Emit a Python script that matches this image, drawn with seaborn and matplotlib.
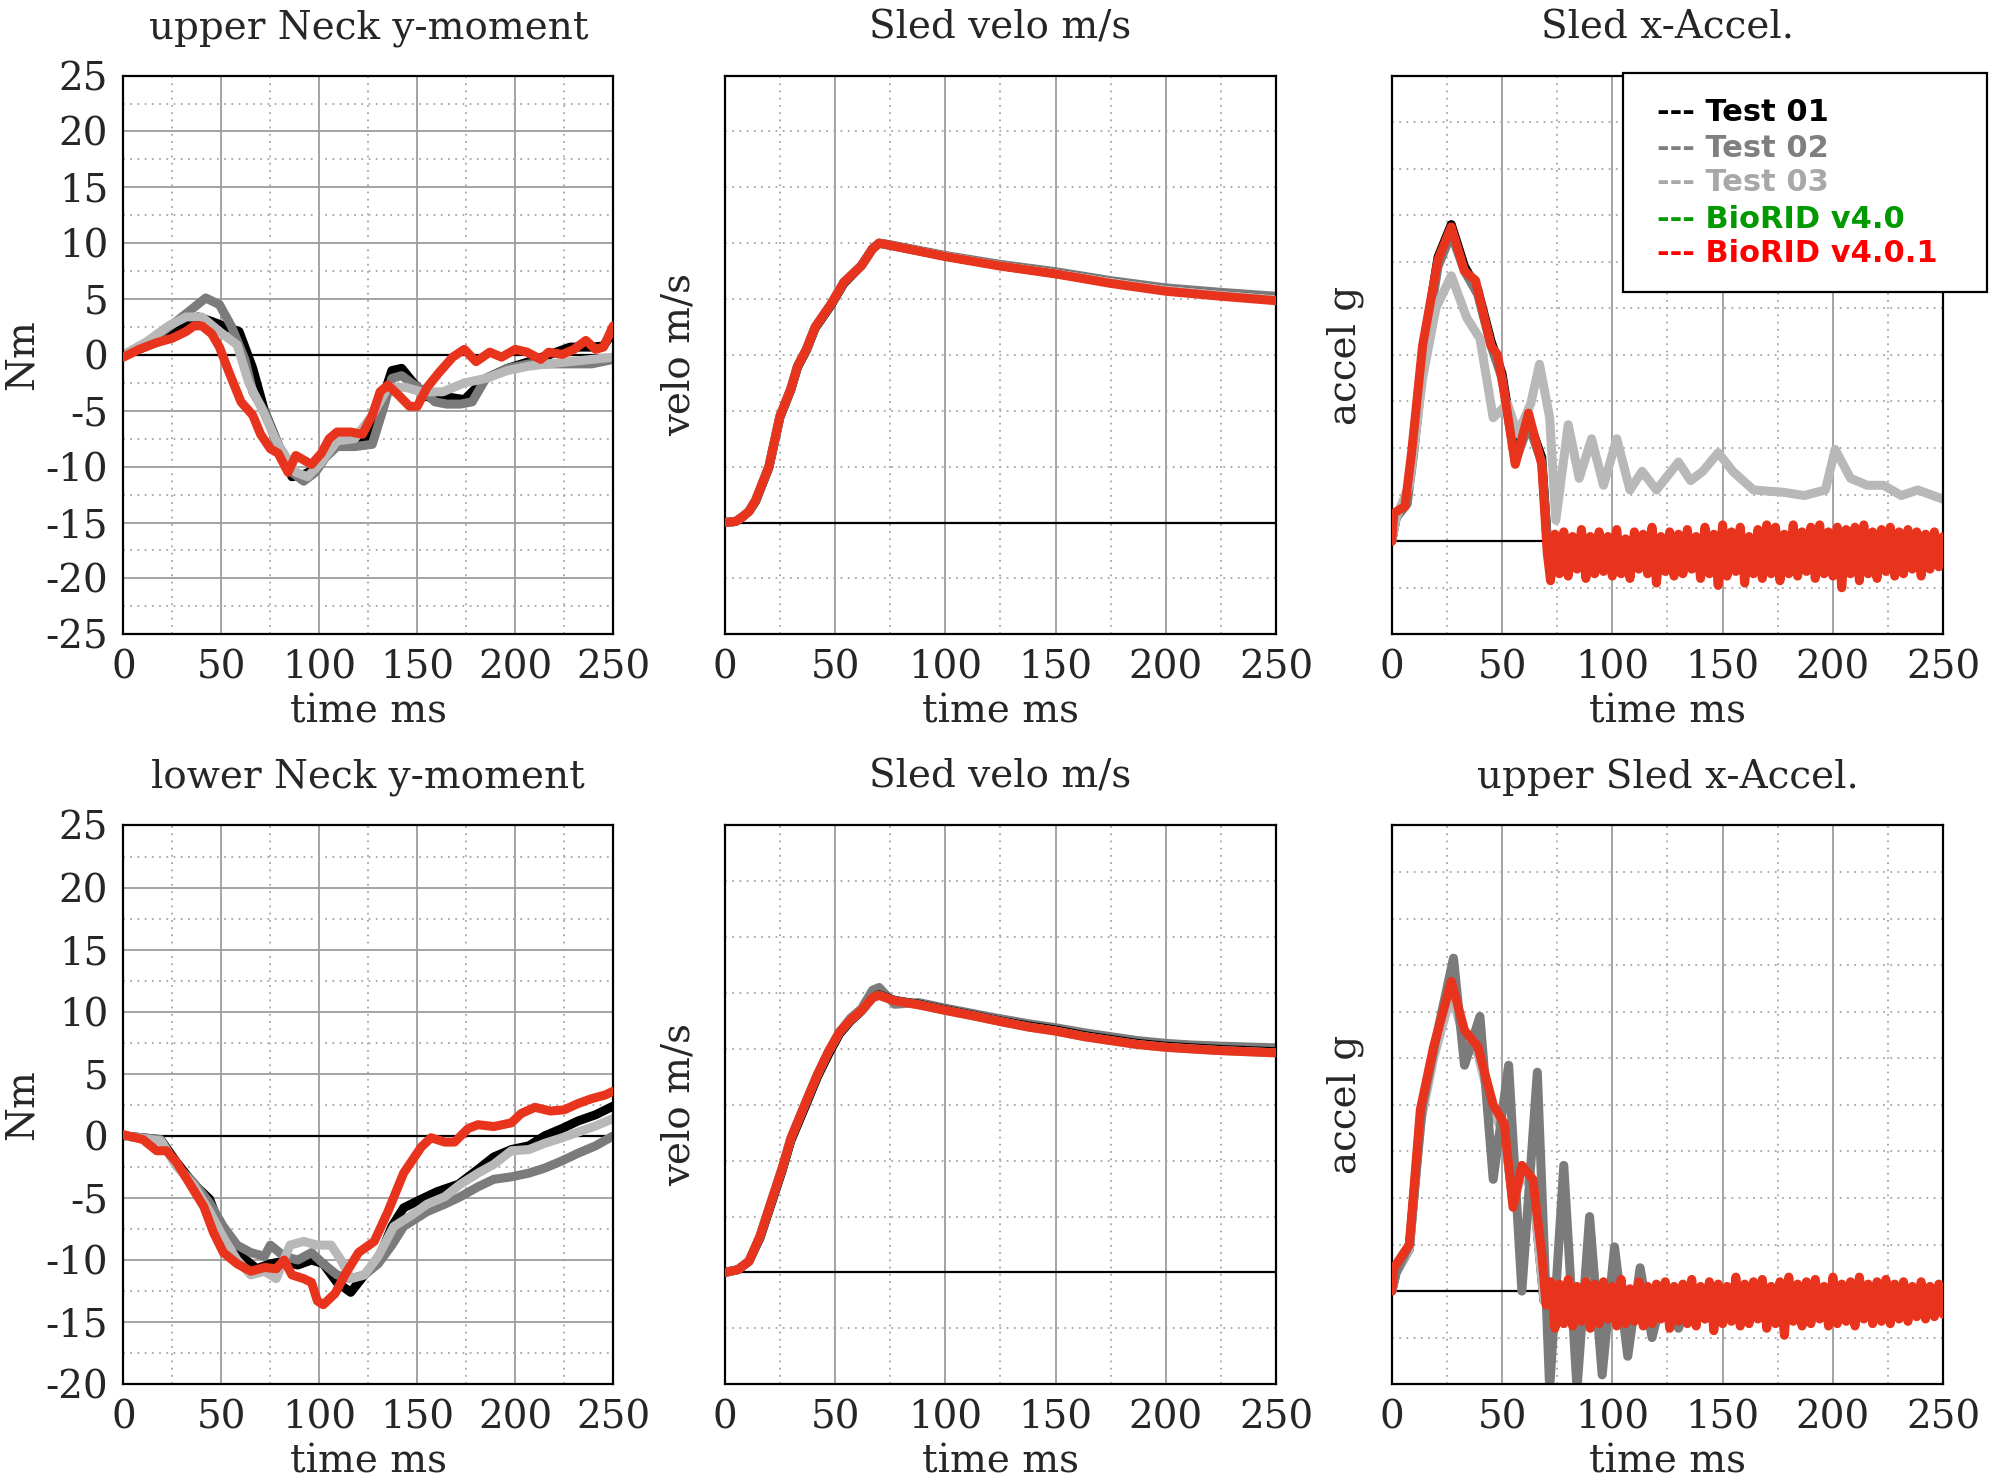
import numpy as np
import matplotlib
matplotlib.use("Agg")
import matplotlib.pyplot as plt
from matplotlib.patches import Rectangle
from matplotlib.ticker import MultipleLocator
import seaborn as sns

sns.set_style("white")
plt.rcParams['font.family'] = ['DejaVu Serif']
plt.rcParams['axes.unicode_minus'] = False

# ---------------- data ----------------
# upper neck y-moment (Nm)
un_t01_t = [0, 8, 16, 25, 32, 38, 45, 51, 59, 66, 72, 79, 86, 92, 99, 107, 116, 125, 131, 137,
            142, 148, 155, 165, 174, 185, 196, 207, 217, 228, 239, 245, 250]
un_t01_y = [0, 0.5, 1.1, 1.8, 2.6, 3.4, 3.0, 2.6, 2.1, -1.2, -5.0, -8.0, -10.9, -10.7, -10.1, -8.2, -8.0, -7.7, -4.6, -1.4,
            -1.2, -2.5, -3.75, -3.75, -4.0, -2.1, -1.2, -0.6, 0.0, 0.7, 0.7, 0.8, 2.1]
un_t02_t = [0, 14, 27, 36, 42, 49, 55, 62, 66, 73, 79, 86, 92, 98, 103, 109, 118, 127, 133, 137,
            142, 147, 152, 159, 165, 172, 178, 185, 196, 207, 217, 228, 239, 250]
un_t02_y = [0, 1.3, 3.0, 4.25, 5.1, 4.5, 2.6, -0.4, -3.3, -5.4, -8.4, -10.5, -11.3, -10.5, -9.2, -8.2, -8.2, -8.0, -4.6, -2.1,
            -1.85, -2.5, -3.1, -4.2, -4.4, -4.4, -4.2, -2.1, -1.2, -0.8, -0.8, -0.8, -0.8, -0.4]
un_t03_t = [0, 12, 23, 32, 40, 49, 58, 64, 70, 79, 88, 94, 101, 109, 118, 127, 135, 144, 152, 163,
            174, 185, 196, 207, 217, 228, 239, 250]
un_t03_y = [0, 1.2, 2.6, 3.4, 3.4, 2.1, 0.9, -2.5, -4.6, -8.0, -10.5, -10.9, -9.6, -7.7, -7.5, -5.4, -2.9, -2.9, -3.3, -3.3,
            -2.5, -2.1, -1.4, -1.0, -0.8, -0.6, -0.4, -0.2]
un_bio_t = [0, 8, 17, 25, 32, 36, 40, 45, 49, 54, 60, 66, 70, 75, 79, 84, 88, 92, 96, 101,
            105, 109, 116, 122, 127, 131, 135, 141, 146, 150, 155, 161, 168, 174, 180, 187, 193, 200, 206, 213,
            217, 224, 230, 236, 241, 245, 250]
un_bio_y = [-0.2, 0.5, 1.1, 1.5, 2.1, 2.6, 2.6, 1.9, 0.7, -1.6, -4.2, -5.4, -7.1, -8.4, -8.8, -10.5, -9.0, -9.4, -9.8, -8.8,
            -7.5, -6.9, -6.9, -7.1, -5.4, -3.3, -2.7, -3.7, -4.6, -4.6, -2.9, -1.6, -0.2, 0.5, -0.6, 0.25, -0.2, 0.5, 0.25, -0.4,
            0.25, 0.05, 0.5, 1.3, 0.5, 0.7, 2.6]

# lower neck y-moment (Nm)
ln_t01_t = [0, 19, 27, 36, 44, 50, 55, 61, 68, 75, 82, 89, 96, 102, 109, 116, 123, 130, 137, 143,
            152, 160, 171, 181, 189, 198, 207, 215, 224, 232, 241, 250]
ln_t01_y = [0, -0.3, -2.1, -3.9, -5.1, -7.6, -8.8, -9.8, -10.7, -10.3, -10.1, -10.4, -10.0, -10.3, -11.8, -12.6, -11.2, -10.0, -7.3, -5.8,
            -5.1, -4.5, -3.9, -2.7, -1.7, -1.1, -0.8, 0.0, 0.6, 1.2, 1.7, 2.4]
ln_t02_t = [0, 19, 27, 36, 44, 51, 58, 65, 72, 75, 82, 89, 96, 102, 109, 116, 123, 130, 137, 143,
            155, 164, 172, 181, 189, 198, 207, 215, 224, 232, 241, 250]
ln_t02_y = [0, -0.3, -2.4, -3.8, -5.4, -7.3, -8.8, -9.4, -9.7, -8.8, -9.7, -10.0, -9.4, -10.3, -11.2, -11.5, -11.2, -10.3, -8.8, -7.3,
            -6.1, -5.5, -4.9, -4.1, -3.5, -3.3, -3.0, -2.6, -2.0, -1.4, -0.8, 0.0]
ln_t03_t = [0, 19, 27, 36, 44, 51, 58, 65, 72, 78, 85, 92, 99, 106, 111, 116, 123, 130, 138, 147,
            155, 164, 172, 181, 189, 198, 207, 215, 224, 232, 241, 250]
ln_t03_y = [0, -0.4, -2.4, -4.0, -6.1, -8.2, -10.0, -11.2, -10.9, -11.5, -8.8, -8.5, -8.8, -8.8, -10.0, -11.5, -11.2, -9.7, -7.3, -6.4,
            -5.5, -4.9, -3.9, -3.0, -2.3, -1.2, -1.1, -0.6, -0.15, 0.3, 0.8, 1.4]
ln_bio_t = [0, 10, 17, 22, 27, 34, 41, 46, 51, 58, 65, 72, 78, 82, 86, 92, 96, 99, 102, 108,
            113, 120, 128, 135, 143, 152, 157, 164, 169, 176, 181, 189, 198, 203, 210, 218, 225, 232, 239, 246, 250]
ln_bio_y = [0.1, -0.3, -1.2, -1.2, -2.1, -3.9, -5.7, -7.8, -9.4, -10.3, -10.9, -10.6, -10.7, -10.0, -11.2, -11.5, -11.8, -13.3, -13.6, -12.7,
            -11.2, -9.4, -8.5, -6.1, -3.0, -0.9, -0.15, -0.5, -0.5, 0.6, 0.9, 0.75, 1.05, 1.8, 2.3, 2.0, 2.1, 2.6, 3.0, 3.3, 3.6]

# sled velocity (top run)
v1_t = [0, 5, 8, 11, 14, 20, 25, 30, 33, 37, 41, 48, 54, 58, 62, 67, 70, 74, 100, 125, 150, 175, 200, 225, 250]
v1_bio = [0, 0.02, 0.1, 0.2, 0.4, 1.0, 1.9, 2.4, 2.8, 3.1, 3.5, 3.9, 4.3, 4.45, 4.6, 4.9, 5.0, 4.97, 4.76, 4.59, 4.45, 4.28, 4.14, 4.05, 3.97]
v1_t01 = [0, 0.02, 0.1, 0.2, 0.38, 0.98, 1.88, 2.38, 2.78, 3.08, 3.48, 3.88, 4.28, 4.44, 4.6, 4.9, 5.0, 4.97, 4.77, 4.6, 4.46, 4.3, 4.16, 4.07, 3.99]
v1_t02 = [0, 0.02, 0.1, 0.2, 0.4, 1.0, 1.9, 2.4, 2.8, 3.1, 3.5, 3.9, 4.3, 4.45, 4.6, 4.9, 5.0, 4.98, 4.78, 4.62, 4.49, 4.33, 4.2, 4.12, 4.05]
v1_t03 = [0, 0.02, 0.1, 0.2, 0.4, 1.0, 1.9, 2.4, 2.8, 3.1, 3.5, 3.9, 4.3, 4.45, 4.6, 4.9, 5.0, 4.97, 4.77, 4.6, 4.46, 4.3, 4.16, 4.07, 3.99]

# sled velocity (bottom run)
v2_t = [0, 6, 11, 16, 21, 26, 30, 37, 42, 47, 52, 57, 62, 67, 70, 77, 88, 100, 113, 125,
        138, 150, 163, 175, 187, 200, 212, 225, 250]
v2_bio = [0, 0.05, 0.2, 0.65, 1.26, 1.86, 2.4, 3.07, 3.54, 3.95, 4.3, 4.52, 4.69, 4.92, 4.96, 4.86, 4.79, 4.69, 4.59, 4.49,
          4.39, 4.32, 4.22, 4.15, 4.08, 4.03, 4.0, 3.97, 3.93]
v2_t01 = [0, 0.05, 0.2, 0.62, 1.22, 1.82, 2.36, 3.02, 3.5, 3.9, 4.27, 4.5, 4.68, 4.92, 4.97, 4.87, 4.8, 4.7, 4.6, 4.5,
          4.41, 4.34, 4.24, 4.17, 4.1, 4.05, 4.02, 3.99, 3.95]
v2_t02 = [0, 0.05, 0.2, 0.65, 1.26, 1.86, 2.4, 3.07, 3.54, 3.95, 4.3, 4.55, 4.72, 5.05, 5.1, 4.8, 4.83, 4.73, 4.63, 4.54,
          4.45, 4.38, 4.29, 4.22, 4.15, 4.1, 4.07, 4.05, 4.02]
v2_t03 = [0, 0.05, 0.2, 0.65, 1.26, 1.86, 2.4, 3.07, 3.54, 3.95, 4.3, 4.52, 4.69, 4.92, 4.96, 4.86, 4.79, 4.69, 4.59, 4.49,
          4.39, 4.32, 4.22, 4.15, 4.08, 4.03, 4.0, 3.97, 3.93]

# sled x-acceleration (top run)
a1_t01_t = [0, 2, 7, 10, 15, 21, 27, 33, 39, 45, 50, 56, 62, 68, 71, 80, 100, 130, 160, 190, 220, 250]
a1_t01_y = [0, 0.5, 0.9, 2.0, 4.3, 6.1, 6.8, 5.9, 5.4, 4.3, 3.6, 1.8, 2.6, 1.8, -0.3, -0.3, -0.25, -0.3, -0.3, -0.25, -0.3, -0.3]
a1_t02_y = [0, 0.5, 0.8, 1.9, 4.1, 5.9, 6.6, 5.8, 5.3, 4.2, 3.5, 1.7, 2.5, 1.7, -0.3, -0.35, -0.3, -0.3, -0.35, -0.3, -0.3, -0.3]
a1_t03_t = [0, 2, 8, 14, 20, 27, 34, 40, 46, 52.5, 57, 63, 67, 71.6, 74.4, 80, 85, 90.6, 96, 102,
            108, 113.5, 120, 130, 135.5, 141, 148, 154.6, 164, 177.5, 187, 196.6, 201, 208, 215.6, 223, 231, 238.5, 250]
a1_t03_y = [0, 0.5, 1.2, 3.5, 5.0, 5.7, 4.8, 4.35, 2.65, 2.95, 2.3, 2.95, 3.8, 2.65, 0.45, 2.5, 1.35, 2.2, 1.2, 2.2,
            1.1, 1.5, 1.1, 1.7, 1.3, 1.5, 1.9, 1.5, 1.1, 1.05, 0.98, 1.1, 1.97, 1.35, 1.2, 1.2, 0.98, 1.1, 0.9]
a1_bio_t = [0, 1, 6, 9, 14, 21, 27, 33, 38, 45, 48, 51, 56, 62, 68, 70.5]
a1_bio_y = [0, 0.6, 0.75, 1.9, 4.2, 6.05, 6.75, 5.8, 5.6, 4.2, 4.0, 3.2, 1.65, 2.75, 1.65, -0.25]
# high-frequency part after 72 ms, one sample every 2 ms
a1_bio_noise = [-0.85, 0.15, -0.7, 0.2, -0.75, 0.1, -0.6, 0.25, -0.8, 0.1,
                -0.7, 0.2, -0.65, 0.1, -0.75, 0.25, -0.7, 0.05, -0.8, 0.2,
                -0.6, 0.15, -0.7, 0.3, -0.9, 0.1, -0.65, 0.2, -0.75, 0.15,
                -0.7, 0.25, -0.6, 0.1, -0.8, 0.3, -0.7, 0.15, -0.95, 0.35,
                -0.75, 0.2, -0.65, 0.3, -0.9, 0.1, -0.7, 0.25, -0.8, 0.35,
                -0.7, 0.3, -0.85, 0.15, -0.7, 0.35, -0.75, 0.2, -0.65, 0.3,
                -0.8, 0.35, -0.7, 0.2, -0.75, 0.3, -1.0, 0.25, -0.7, 0.3,
                -0.85, 0.35, -0.7, 0.2, -0.8, 0.25, -0.65, 0.3, -0.75, 0.2,
                -0.7, 0.25, -0.6, 0.2, -0.75, 0.15, -0.6, 0.2, -0.55, 0.1]

# sled x-acceleration (bottom run)
a2_t01_t = [0, 2, 8, 13, 19, 27, 33, 39, 46, 51, 55, 59, 64, 69, 80, 100, 130, 160, 190, 220, 250]
a2_t01_y = [0, 0.4, 0.9, 3.7, 5.1, 6.5, 5.5, 5.2, 3.9, 3.5, 1.9, 2.6, 2.3, -0.2, -0.3, -0.3, -0.3, -0.3, -0.3, -0.3, -0.3]
a2_t03_y = [0, 0.4, 0.9, 3.6, 5.0, 6.4, 5.4, 5.1, 3.8, 3.4, 1.9, 2.5, 2.2, -0.2, -0.3, -0.3, -0.3, -0.3, -0.3, -0.3, -0.3]
a2_t02_t = [0, 2, 8, 14, 20, 28, 33, 40, 46, 53, 59, 66, 71.6, 78, 84, 89.7, 95.4, 101, 107, 112.6,
            118, 124, 130, 136, 142, 150, 170, 200, 250]
a2_t02_y = [0, 0.4, 1.0, 4.0, 5.4, 7.15, 4.85, 5.9, 2.4, 4.85, 0.0, 4.7, -2.1, 2.7, -2.1, 1.6, -1.8, 0.95, -1.4, 0.5,
            -1.0, 0.15, -0.8, 0.0, -0.6, -0.3, -0.3, -0.3, -0.3]
a2_bio_t = [0, 1, 8, 13, 19, 27, 33, 39, 46, 51, 55, 59, 64, 68, 70]
a2_bio_y = [0, 0.5, 1.0, 3.9, 5.25, 6.65, 5.6, 5.25, 4.0, 3.6, 1.8, 2.7, 2.4, 0.8, -0.3]
a2_bio_noise = [0.2, -0.8, 0.15, -0.7, 0.25, -0.75, 0.1, -0.65, 0.2, -0.8,
                0.15, -0.7, 0.2, -0.6, 0.1, -0.75, 0.25, -0.7, 0.05, -0.65,
                0.2, -0.75, 0.1, -0.7, 0.15, -0.6, 0.2, -0.8, 0.1, -0.65,
                0.15, -0.7, 0.25, -0.75, 0.1, -0.6, 0.2, -0.85, 0.15, -0.7,
                0.1, -0.65, 0.3, -0.75, 0.15, -0.7, 0.2, -0.6, 0.25, -0.8,
                0.1, -0.7, 0.2, -0.95, 0.3, -0.65, 0.15, -0.75, 0.2, -0.7,
                0.25, -0.6, 0.1, -0.75, 0.3, -0.7, 0.15, -0.65, 0.2, -0.75,
                0.3, -0.6, 0.15, -0.7, 0.2, -0.65, 0.25, -0.7, 0.15, -0.6,
                0.2, -0.65, 0.1, -0.55, 0.2, -0.6, 0.1, -0.55, 0.15, -0.5]
noise_t = np.arange(72, 251, 2)

legend_labels = ["Test 01", "Test 02", "Test 03", "BioRID v4.0", "BioRID v4.0.1"]
legend_colors = ["#000000", "#7f7f7f", "#a8a8a8", "#009900", "#ff0000"]

C01, C02, C03, CBIO = "#000000", "#7b7b7b", "#b8b8b8", "#e8341c"
LW = 6.5
FS = 28

fig = plt.figure(figsize=(19.91, 14.82), dpi=100)

col_x = [0.062, 0.364, 0.699]
col_w = [0.246, 0.277, 0.277]
row_y = [0.572, 0.066]
row_h = 0.377


def draw(ax, t, y, color, z=2):
    sns.lineplot(x=t, y=y, ax=ax, color=color, linewidth=LW, estimator=None, sort=False, zorder=z)


def style(ax, title, ylabel, ylim, numeric, label_x):
    ax.set_xlim(0, 250)
    ax.set_ylim(*ylim)
    ax.set_axisbelow(True)
    ax.xaxis.set_major_locator(MultipleLocator(50))
    ax.xaxis.set_minor_locator(MultipleLocator(25))
    ax.grid(which='major', axis='x', color='#9c9c9c', lw=1.3, ls='-')
    ax.grid(which='minor', axis='x', color='#a6a6a6', lw=1.3, ls=(0, (1, 3)))
    if numeric:
        ax.yaxis.set_major_locator(MultipleLocator(5))
        ax.yaxis.set_minor_locator(MultipleLocator(2.5))
        ax.grid(which='major', axis='y', color='#9c9c9c', lw=1.3, ls='-')
        ax.grid(which='minor', axis='y', color='#a6a6a6', lw=1.3, ls=(0, (1, 3)))
    else:
        ax.yaxis.set_major_locator(MultipleLocator(1))
        ax.grid(which='major', axis='y', color='#a6a6a6', lw=1.3, ls=(0, (1, 3)))
        ax.set_yticklabels([])
    ax.axhline(0, color='black', lw=1.6, zorder=1.5)
    ax.tick_params(which='both', length=0, labelsize=FS, pad=11)
    ax.set_title(title, fontsize=FS, pad=27)
    ax.set_xlabel('time ms', fontsize=FS, labelpad=5)
    ax.set_ylabel(ylabel, fontsize=FS)
    ax.yaxis.set_label_coords(label_x, 0.5)
    for s in ax.spines.values():
        s.set_visible(True)
        s.set_color('black')
        s.set_linewidth(1.6)


axes = {}
for r in range(2):
    for c in range(3):
        axes[(r, c)] = fig.add_axes([col_x[c], row_y[r], col_w[c], row_h])

# upper neck
ax = axes[(0, 0)]
draw(ax, un_t01_t, un_t01_y, C01)
draw(ax, un_t02_t, un_t02_y, C02)
draw(ax, un_t03_t, un_t03_y, C03)
draw(ax, un_bio_t, un_bio_y, CBIO, 3)
style(ax, 'upper Neck y-moment', 'Nm', (-25, 25), True, -0.17)

# lower neck
ax = axes[(1, 0)]
draw(ax, ln_t01_t, ln_t01_y, C01)
draw(ax, ln_t02_t, ln_t02_y, C02)
draw(ax, ln_t03_t, ln_t03_y, C03)
draw(ax, ln_bio_t, ln_bio_y, CBIO, 3)
style(ax, 'lower Neck y-moment', 'Nm', (-20, 25), True, -0.17)

# velocities
ax = axes[(0, 1)]
draw(ax, v1_t, v1_t02, C02)
draw(ax, v1_t, v1_t01, C01)
draw(ax, v1_t, v1_t03, C03)
draw(ax, v1_t, v1_bio, CBIO, 3)
style(ax, 'Sled velo m/s', 'velo m/s', (-2, 8), False, -0.05)

ax = axes[(1, 1)]
draw(ax, v2_t, v2_t02, C02)
draw(ax, v2_t, v2_t01, C01)
draw(ax, v2_t, v2_t03, C03)
draw(ax, v2_t, v2_bio, CBIO, 3)
style(ax, 'Sled velo m/s', 'velo m/s', (-2, 8), False, -0.05)

# accelerations
ax = axes[(0, 2)]
draw(ax, a1_t01_t, a1_t01_y, C01)
draw(ax, a1_t01_t, a1_t02_y, C02)
draw(ax, a1_t03_t, a1_t03_y, C03)
draw(ax, list(a1_bio_t) + list(noise_t), a1_bio_y + a1_bio_noise, CBIO, 3)
style(ax, 'Sled x-Accel.', 'accel g', (-2, 10), False, -0.05)

ax = axes[(1, 2)]
draw(ax, a2_t01_t, a2_t01_y, C01)
draw(ax, a2_t01_t, a2_t03_y, C03)
draw(ax, a2_t02_t, a2_t02_y, C02)
draw(ax, list(a2_bio_t) + list(noise_t), a2_bio_y + a2_bio_noise, CBIO, 3)
style(ax, 'upper Sled x-Accel.', 'accel g', (-2, 10), False, -0.05)

# legend box drawn as text lines
fig.add_artist(Rectangle((0.815, 0.803), 0.183, 0.148, transform=fig.transFigure,
                         facecolor='white', edgecolor='black', lw=1.6, zorder=10))
ys = [0.924, 0.900, 0.877, 0.852, 0.829]
for lab, col, yy in zip(legend_labels, legend_colors, ys):
    fig.text(0.832, yy, '--- ' + lab, color=col, fontsize=22, fontweight='bold',
             family='DejaVu Sans', va='center', ha='left', zorder=11)

fig.savefig('out.png', dpi=100, facecolor='white')
